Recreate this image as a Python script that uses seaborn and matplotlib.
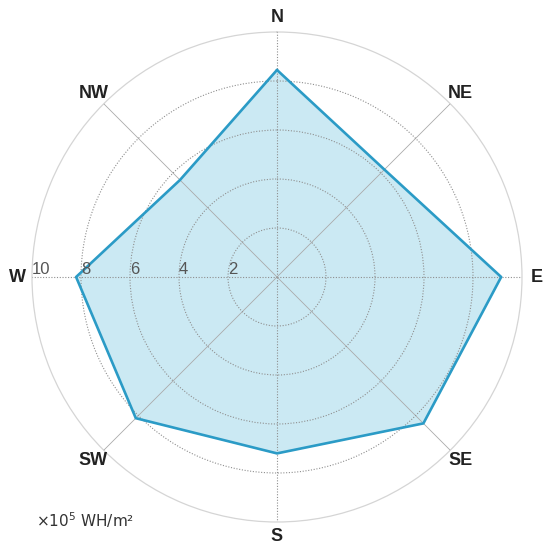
import numpy as np
import matplotlib
matplotlib.use("Agg")
import matplotlib.pyplot as plt
import seaborn as sns
import pandas as pd

directions = ["N", "NE", "E", "SE", "S", "SW", "W", "NW"]
values = [8.45, 6.2, 9.15, 8.45, 7.2, 8.15, 8.2, 5.6]
r_ticks = [2, 4, 6, 8, 10]
unit_label = r"$\times10^5$ WH/m²"

sns.set_style("white")
plt.rcParams["font.family"] = ["Liberation Sans", "DejaVu Sans"]
plt.rcParams["mathtext.fontset"] = "dejavusans"

df = pd.DataFrame({"dir": directions, "val": values})
angles = np.linspace(0, 2 * np.pi, len(directions), endpoint=False)
df["theta"] = angles

fig = plt.figure(figsize=(5.5, 5.54), dpi=100)
ax = fig.add_axes([32 / 550, 32 / 554, 490 / 550, 490 / 554], projection="polar")
ax.set_theta_zero_location("N")
ax.set_theta_direction(-1)
ax.set_axisbelow(False)

closing = df.iloc[[0]].copy()
closing["theta"] = 2 * np.pi
closed = pd.concat([df, closing], ignore_index=True)
ax.fill(closed["theta"], closed["val"], color="#cbe9f3", zorder=1)
sns.lineplot(x=closed["theta"], y=closed["val"], ax=ax, sort=False, estimator=None,
             color="#2b9bc6", linewidth=1.9, zorder=3)

ax.set_ylim(0, max(r_ticks))
ax.set_yticks(r_ticks[:-1])
ax.set_yticklabels([])
ax.yaxis.grid(True, color="#8f8f8f", linestyle=(0, (1, 1.5)), linewidth=0.8)
ax.set_xticks(angles)
ax.set_xticklabels(directions, fontsize=13, fontweight="bold", color="#222222")
ax.tick_params(axis="x", pad=0)
ax.xaxis.grid(True, color="#8f8f8f", linewidth=0.6)
for i, gl in enumerate(ax.xaxis.get_gridlines()):
    if i % 2 == 0:
        gl.set_linestyle((0, (1, 1.5)))
        gl.set_linewidth(0.8)
    else:
        gl.set_linestyle("-")
        gl.set_color("#aaaaaa")
        gl.set_linewidth(0.6)
ax.spines["polar"].set_color("#d5d5d5")
ax.spines["polar"].set_linewidth(0.9)
ax.set_xlabel("")
ax.set_ylabel("")

for r in r_ticks:
    ax.text(np.pi * 1.5, r, str(r), ha="left", va="bottom", fontsize=12,
            color="#555555", zorder=4)

fig.text(36 / 550, 1 - 520 / 554, unit_label, ha="left", va="center", fontsize=11,
         color="#333333", family=["DejaVu Sans"])

fig.savefig("out.png", dpi=100)
